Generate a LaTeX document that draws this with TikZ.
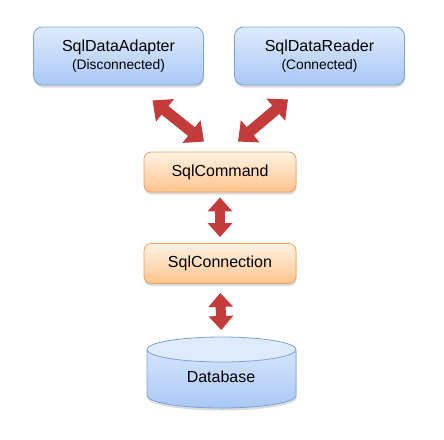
\documentclass[tikz,border=0pt]{standalone}
\usepackage{fontspec}
\setmainfont{Liberation Sans}
\usetikzlibrary{arrows.meta,shadows,calc}
\definecolor{azulTopo}{HTML}{DFEBFC}
\definecolor{azulBase}{HTML}{A9C8F6}
\definecolor{azulBorda}{HTML}{7FA2D6}
\definecolor{laranjaTopo}{HTML}{FFF2E4}
\definecolor{laranjaBase}{HTML}{FFC48E}
\definecolor{laranjaBorda}{HTML}{F2A05A}
\definecolor{vermelho}{HTML}{C43B3C}
\newcommand\subtitulofont{\fontsize{13.8}{16}\selectfont}
\begin{document}
\begin{tikzpicture}[x=1pt, y=-1pt,
        every node/.style={font=\fontsize{16}{19}\selectfont},
        sombra/.style={drop shadow={shadow xshift=0.5pt, shadow yshift=-2.5pt, opacity=0.14, fill=black}},
        azul/.style={draw=azulBorda, thick, top color=azulTopo, bottom color=azulBase,
            rounded corners=9pt, minimum width=170pt, minimum height=58pt, align=center, sombra},
        laranja/.style={draw=laranjaBorda, thick, top color=laranjaTopo, bottom color=laranjaBase,
            rounded corners=7pt, minimum width=152pt, minimum height=40pt, sombra},
        seta/.style={draw=vermelho, line width=10pt,
            {Triangle[length=14pt, width=24pt]}-{Triangle[length=14pt, width=24pt]}},
        setadiag/.style={draw=vermelho, line width=11pt,
            {Triangle[length=16pt, width=28pt]}-{Triangle[length=16pt, width=28pt]}}
    ]
    \useasboundingbox (0,0) rectangle (444,439);

    % Camada superior
    \node[azul] (adapter) at (118.5, 56) {SqlDataAdapter\\[-1pt]{\subtitulofont(Disconnected)}};
    \node[azul] (reader) at (319.5, 56) {SqlDataReader\\[-1pt]{\subtitulofont(Connected)}};

    % Comando e conexao
    \node[laranja] (cmd) at (220, 172) {SqlCommand};
    \node[laranja] (conn) at (220, 263.5) {SqlConnection};

    % Banco de dados (cilindro)
    \path[sombra, top color=azulTopo, bottom color=azulBase]
        (147, 349.5) -- (147, 395.5)
        arc[start angle=180, end angle=360, x radius=74.5pt, y radius=12.5pt]
        -- (296, 349.5)
        arc[start angle=0, end angle=180, x radius=74.5pt, y radius=12.5pt] -- cycle;
    \draw[azulBorda, thick]
        (147, 349.5) -- (147, 395.5)
        arc[start angle=180, end angle=360, x radius=74.5pt, y radius=12.5pt]
        -- (296, 349.5);
    \draw[azulBorda, thick, fill=azulTopo] (221.5, 349.5) ellipse [x radius=74.5pt, y radius=12.5pt];
    \node (db) at (221, 377) {Database};
    \coordinate (dbtopo) at (221.5, 337);

    % Setas
    \draw[setadiag] ($(cmd.north)+(-16,-10)$) -- ($(adapter.south)+(34,15)$);
    \draw[setadiag] ($(cmd.north)+(18,-10)$) -- ($(reader.south)+(-31.5,14)$);
    \draw[seta, shorten <=5pt, shorten >=6pt] (cmd.south) -- (conn.north);
    \draw[seta, shorten <=9pt, shorten >=7pt] (conn.south) -- (dbtopo);

\end{tikzpicture}
\end{document}
